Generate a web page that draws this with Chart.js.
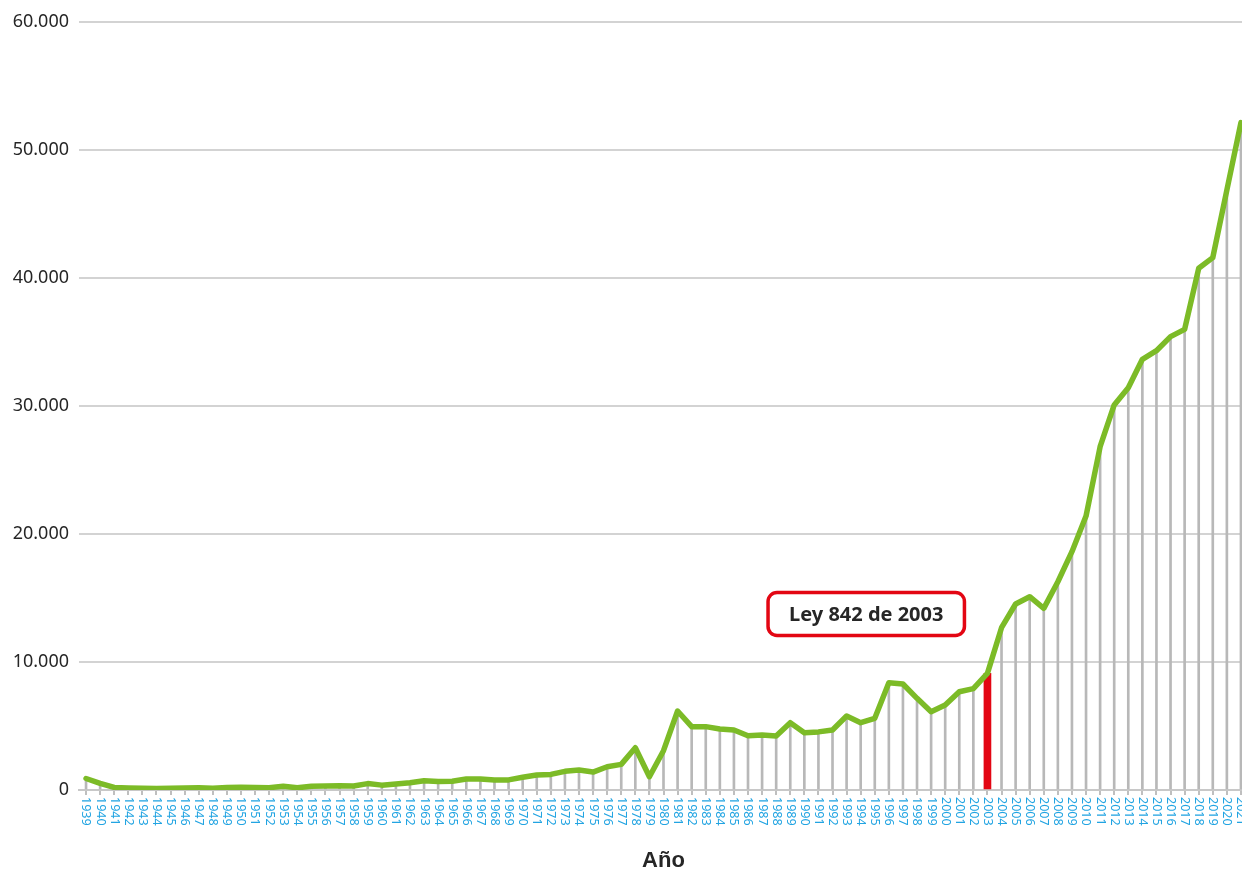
<!DOCTYPE html>
<html lang="es">
<head>
<meta charset="utf-8">
<title>Año</title>
<script src="https://cdn.jsdelivr.net/npm/chart.js@4.4.1/dist/chart.umd.min.js"></script>
<style>
  html, body { margin: 0; padding: 0; background: #fff; overflow: hidden; }
  #wrap { width: 1250px; height: 876px; }
</style>
</head>
<body>
<div id="wrap"><canvas id="chart"></canvas></div>
<script>
const years = [
  '1939', '1940', '1941', '1942', '1943', '1944', '1945', '1946', '1947', '1948',
  '1949', '1950', '1951', '1952', '1953', '1954', '1955', '1956', '1957', '1958',
  '1959', '1960', '1961', '1962', '1963', '1964', '1965', '1966', '1967', '1968',
  '1969', '1970', '1971', '1972', '1973', '1974', '1975', '1976', '1977', '1978',
  '1979', '1980', '1981', '1982', '1983', '1984', '1985', '1986', '1987', '1988',
  '1989', '1990', '1991', '1992', '1993', '1994', '1995', '1996', '1997', '1998',
  '1999', '2000', '2001', '2002', '2003', '2004', '2005', '2006', '2007', '2008',
  '2009', '2010', '2011', '2012', '2013', '2014', '2015', '2016', '2017', '2018',
  '2019', '2020', '2021'
];

const values = [
  900, 520, 200, 160, 130, 120, 140, 150, 170, 140,
  190, 210, 190, 180, 300, 170, 300, 320, 330, 310,
  500, 380, 460, 560, 720, 660, 680, 860, 860, 780,
  790, 990, 1170, 1220, 1460, 1560, 1400, 1820, 2000, 3300,
  1040, 3070, 6170, 4950, 4950, 4770, 4690, 4240, 4300, 4220,
  5260, 4480, 4540, 4690, 5780, 5260, 5600, 8380, 8280, 7160,
  6120, 6640, 7680, 7920, 9110, 12680, 14530, 15100, 14190, 16270,
  18620, 21400, 26820, 30080, 31430, 33650, 34320, 35420, 35990, 40760,
  41590, 46880, 52140
];

const yTicks = [0, 10000, 20000, 30000, 40000, 50000, 60000];

// año de la Ley 842 y nivel al que se centra su recuadro
const leyYear = '2003';
const leyText = 'Ley 842 de 2003';
const leyBoxLevel = 13750;

// líneas de caída: grises para todos los años, roja para 2003
const dropGray = values.map((v, i) => years[i] === leyYear ? null : v);
const dropRed = values.map((v, i) => years[i] === leyYear ? v : null);

function miles(v) {
  return String(v).replace(/\B(?=(\d{3})+(?!\d))/g, '.');
}

Chart.defaults.font.family = '"Noto Sans", sans-serif';

// etiquetas de año giradas, leyendo de arriba hacia abajo
const yearLabels = {
  id: 'yearLabels',
  afterDraw(chart) {
    const { ctx, scales: { x } } = chart;
    ctx.save();
    ctx.fillStyle = '#22a4e2';
    ctx.font = '12.5px "Noto Sans"';
    ctx.textAlign = 'left';
    ctx.textBaseline = 'middle';
    years.forEach((yr, i) => {
      ctx.save();
      ctx.translate(x.getPixelForValue(i), x.top + 7);
      ctx.rotate(Math.PI / 2);
      ctx.fillText(yr, 0, 0);
      ctx.restore();
    });
    ctx.restore();
  }
};

const leyBox = {
  id: 'leyBox',
  afterDatasetsDraw(chart) {
    const { ctx, scales: { x, y } } = chart;
    const right = x.getPixelForValue(years.indexOf(leyYear)) - 23;
    const cy = y.getPixelForValue(leyBoxLevel);
    ctx.save();
    ctx.font = 'bold 20px "Noto Sans"';
    const w = ctx.measureText(leyText).width + 42;
    const h = 43;
    ctx.beginPath();
    ctx.roundRect(right - w, cy - h / 2, w, h, 9);
    ctx.fillStyle = '#fff';
    ctx.fill();
    ctx.lineWidth = 3.5;
    ctx.strokeStyle = '#e30613';
    ctx.stroke();
    ctx.fillStyle = '#262626';
    ctx.textAlign = 'center';
    ctx.textBaseline = 'middle';
    ctx.fillText(leyText, right - w / 2, cy + 1);
    ctx.restore();
  }
};

new Chart(document.getElementById('chart'), {
  type: 'line',
  data: {
    labels: years,
    datasets: [
      {
        type: 'line',
        data: values,
        borderColor: '#7cbb27',
        borderWidth: 5.5,
        borderJoinStyle: 'round',
        borderCapStyle: 'round',
        pointRadius: 0,
        tension: 0,
        order: 0
      },
      {
        type: 'bar',
        data: dropRed,
        backgroundColor: '#e30613',
        barThickness: 7,
        grouped: false,
        order: 1
      },
      {
        type: 'bar',
        data: dropGray,
        backgroundColor: '#b8b8b8',
        barThickness: 2,
        grouped: false,
        order: 2
      }
    ]
  },
  options: {
    responsive: true,
    maintainAspectRatio: false,
    animation: false,
    layout: { padding: { top: 22, right: 2, left: 0, bottom: 0 } },
    plugins: {
      legend: { display: false },
      tooltip: { enabled: false }
    },
    scales: {
      x: {
        offset: true,
        grid: {
          offset: false,
          drawOnChartArea: false,
          color: '#bfbfbf',
          lineWidth: 2,
          tickLength: 5
        },
        border: { color: '#c8c8c8', width: 2 },
        ticks: { display: false },
        title: {
          display: true,
          text: 'Año',
          color: '#262626',
          font: { family: '"Liberation Sans"', weight: 'bold', size: 22 },
          padding: { top: 0, bottom: 2 }
        },
        afterFit(scale) { scale.height = 86; }
      },
      y: {
        min: 0,
        max: 60000,
        afterBuildTicks(scale) {
          scale.ticks = yTicks.map(v => ({ value: v }));
        },
        ticks: {
          padding: 10,
          color: '#262626',
          font: { size: 18 },
          callback: v => miles(v)
        },
        grid: { color: '#d3d3d3', lineWidth: 2, drawTicks: false },
        border: { display: false },
        afterFit(scale) { scale.width = 79; }
      }
    }
  },
  plugins: [yearLabels, leyBox]
});
</script>
</body>
</html>
